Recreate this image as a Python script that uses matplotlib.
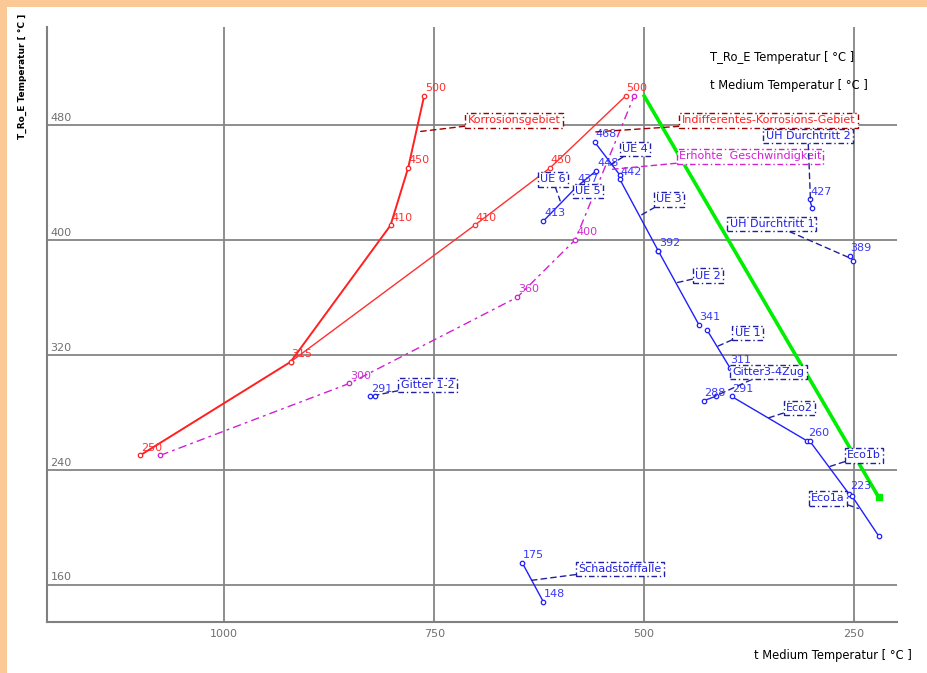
import matplotlib
matplotlib.use("Agg")
import matplotlib.pyplot as plt
from matplotlib.patches import Rectangle
from matplotlib.transforms import blended_transform_factory

plt.rcParams['font.family'] = ['DejaVu Sans']
FS = 8

# gas side (red) curves: t Medium, T_Ro_E
red_a_t = [1100, 921, 802, 781, 762]
red_a_T = [250, 315, 410, 450, 500]
red_b_t = [921, 702, 612, 522]
red_b_T = [315, 410, 450, 500]
red_b_lab = [None, 410, 450, 500]

mag_t = [1076, 851, 651, 582, 512]
mag_T = [250, 300, 360, 400, 500]
mag_lab = [None, 300, 360, 400, None]

green_t = [500, 221]
green_T = [500, 221]

# heat exchanger segments: (t start, t end), (T start, T end), value labels
segs = {
    'UE 6':            ([620, 580], [413, 437], [413, 437]),
    'UE 5':            ([580, 557], [437, 448], [None, 448]),
    'UE 4':            ([559, 529], [468, 445], [468, None]),
    'UE 3':            ([529, 483], [442, 392], [442, 392]),
    'UE 2':            ([483, 435], [392, 341], [None, 341]),
    'UE 1':            ([425, 398], [337, 311], [None, 311]),
    'Gitter3-4Zug':    ([429, 415], [288, 291], [288, None]),
    'Eco2':            ([396, 306], [291, 260], [291, 260]),
    'Eco1b':           ([303, 256], [260, 223], [None, 223]),
    'Eco1a':           ([253, 221], [222, 194], [None, None]),
    'Gitter 1-2':      ([826, 821], [291, 291], [291, None]),
    'ÜH Durchtritt 2': ([303, 300], [428, 422], [427, None]),
    'ÜH Durchtritt 1': ([255, 251], [389, 385], [389, None]),
    'Schadstofffalle': ([645, 620], [175, 148], [175, 148]),
}

# callout boxes: text, point on curve, box centre, text colour, frame colour
callouts = [
    ('Korrosionsgebiet', (771, 475), (655, 483), '#ff2020', '#a00000'),
    ('Indifferentes-Korrosions-Gebiet', (558, 475), (352, 483), '#ff2020', '#a00000'),
    ('Erhohte  Geschwindigkeit', (538, 449), (374, 458), '#d020d0', '#d020d0'),
    ('ÜH Durchtritt 2', (302, 427), (305, 472), '#2020e0', '#2020a0'),
    ('UE 4', (540, 452), (511, 463), '#2020e0', '#2020a0'),
    ('UE 6', (600, 427), (609, 442), '#2020e0', '#2020a0'),
    ('UE 5', (572, 441), (567, 434), '#2020e0', '#2020a0'),
    ('UE 3', (507, 416), (471, 428), '#2020e0', '#2020a0'),
    ('ÜH Durchtritt 1', (254, 387), (348, 411), '#2020e0', '#2020a0'),
    ('UE 2', (462, 370), (424, 375), '#2020e0', '#2020a0'),
    ('UE 1', (412, 326), (377, 335), '#2020e0', '#2020a0'),
    ('Gitter3-4Zug', (416, 291), (352, 308), '#2020e0', '#2020a0'),
    ('Gitter 1-2', (818, 292), (758, 299), '#2020e0', '#2020a0'),
    ('Eco2', (352, 276), (315, 283), '#2020e0', '#2020a0'),
    ('Eco1b', (280, 242), (238, 250), '#2020e0', '#2020a0'),
    ('Eco1a', (245, 213), (281, 220), '#2020e0', '#2020a0'),
    ('Schadstofffalle', (634, 163), (529, 171), '#2020e0', '#2020a0'),
]

x_ticks = [1000, 750, 500, 250]
y_ticks = [160, 240, 320, 400, 480]

fig = plt.figure(figsize=(9.28, 6.73), dpi=100, facecolor='#fac995')
fig.patches.append(Rectangle((7 / 928, 0), 1, 1 - 7 / 673, transform=fig.transFigure,
                             fc='white', ec='none', zorder=-5))
ax = fig.add_axes([47 / 928, 1 - 622 / 673, 850 / 928, 595 / 673])
ax.set_zorder(2)
ax.set_facecolor('white')
ax.set_xlim(1211, 199)
ax.set_ylim(134, 548)

for s in ['top', 'right']:
    ax.spines[s].set_visible(False)
for s in ['left', 'bottom']:
    ax.spines[s].set_color('#808080')
    ax.spines[s].set_linewidth(1.5)

ax.set_xticks(x_ticks)
ax.set_xticklabels([str(v) for v in x_ticks], color='#707070', fontsize=FS)
ax.set_yticks(y_ticks)
ax.set_yticklabels([])
ax.tick_params(length=0, pad=5)
ax.grid(True, color='#858585', linewidth=1.3)
ax.set_axisbelow(True)
trans = blended_transform_factory(ax.transAxes, ax.transData)
for v in y_ticks:
    ax.text(0.004, v + 1.5, str(v), transform=trans, color='#707070',
            fontsize=FS, ha='left', va='bottom')


def value_labels(ts, Ts, labs, color):
    for t, T, lab in zip(ts, Ts, labs):
        if lab is None:
            continue
        ax.annotate(str(lab), (t, T), xytext=(0.5, 2), textcoords='offset points',
                    color=color, fontsize=FS, ha='left', va='bottom', zorder=6)


mk = dict(marker='o', markersize=3.2, markerfacecolor='white', markeredgewidth=0.9)
ax.plot(red_a_t, red_a_T, color='#ff2020', lw=1.4, zorder=4, **mk)
value_labels(red_a_t, red_a_T, red_a_T, '#ff3030')
ax.plot(red_b_t, red_b_T, color='#ff3030', lw=1.0, zorder=4, **mk)
value_labels(red_b_t, red_b_T, red_b_lab, '#ff3030')
ax.plot(mag_t, mag_T, color='#d020d0', lw=1.0, dashes=(6, 3, 2, 3), zorder=4, **mk)
value_labels(mag_t, mag_T, mag_lab, '#d030d0')
ax.plot(green_t, green_T, color='#00ee00', lw=2.6, marker='s', markersize=4,
        markevery=[1], zorder=5)

for name, (ts, Ts, labs) in segs.items():
    ax.plot(ts, Ts, color='#2020ff', lw=1.0, zorder=4, **mk)
    value_labels(ts, Ts, labs, '#3838ff')

for text, pt, box, tc, lc in callouts:
    ax.annotate(text, pt, xytext=box, textcoords='data', color=tc, fontsize=FS,
                ha='center', va='center', zorder=7,
                bbox=dict(boxstyle='square,pad=0.2', fc='white', ec=lc,
                          ls=(0, (4, 2, 1, 2)), lw=1.0),
                arrowprops=dict(arrowstyle='-', color=lc, lw=1.0,
                                ls=(0, (4, 3)), shrinkA=0, shrinkB=0))

fig.text(710 / 928, 1 - 58 / 673, 'T_Ro_E Temperatur [ °C ]', fontsize=8.3,
         ha='left', va='center')
fig.text(710 / 928, 1 - 85 / 673, 't Medium Temperatur [ °C ]', fontsize=8.3,
         ha='left', va='center')
fig.text(912 / 928, 1 - 655 / 673, 't Medium Temperatur [ °C ]', fontsize=8.3,
         ha='right', va='center')
fig.text(22 / 928, 1 - 76 / 673, 'T_Ro_E Temperatur [ °C ]', fontsize=6.5,
         ha='center', va='center', rotation=90, fontweight='bold')

fig.savefig('out.png', dpi=100, facecolor=fig.get_facecolor())
